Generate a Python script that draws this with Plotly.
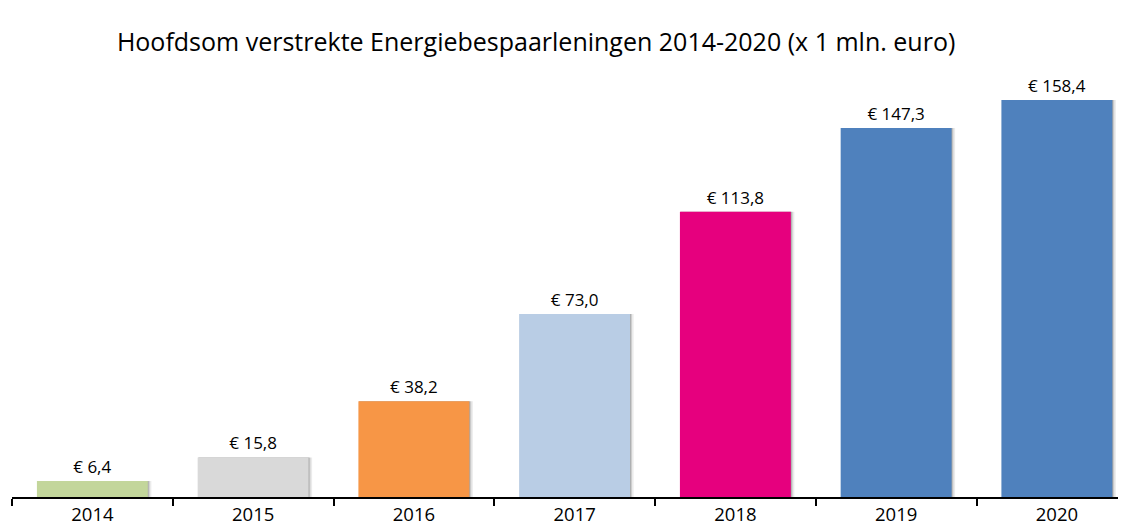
import plotly.graph_objects as go

years = ["2014", "2015", "2016", "2017", "2018", "2019", "2020"]
values = [6.4, 15.8, 38.2, 73.0, 113.8, 147.3, 158.4]
labels = ["€ 6,4", "€ 15,8", "€ 38,2", "€ 73,0", "€ 113,8", "€ 147,3", "€ 158,4"]
colors = ["#C3D69B", "#D9D9D9", "#F79646", "#B9CDE5", "#E6007E", "#4F81BD", "#4F81BD"]

FONT = "Open Sans, sans-serif"

fig = go.Figure()
# soft shadow (right and bottom edge)
for w, off, a in [(0.705, -0.338, 0.08), (0.697, -0.340, 0.12), (0.692, -0.342, 0.18)]:
    fig.add_trace(go.Bar(
        x=years, y=values, width=w, offset=off,
        marker=dict(color=f"rgba(0,0,0,{a})", line=dict(width=0)),
        hoverinfo="skip", showlegend=False,
    ))
fig.add_trace(go.Bar(
    x=years, y=values, width=0.69, offset=-0.345,
    marker=dict(color=colors, line=dict(width=0)),
    text=labels, textposition="outside", cliponaxis=False,
    textfont=dict(family=FONT, size=17, color="#000000"),
    showlegend=False,
))

fig.update_layout(
    barmode="overlay",
    width=1126, height=529,
    margin=dict(l=4, r=8, t=52, b=40),
    paper_bgcolor="white", plot_bgcolor="white",
    title=dict(
        text="Hoofdsom verstrekte Energiebespaarleningen 2014-2020 (x 1 mln. euro)",
        x=0.4690, xanchor="center", y=0.9357, yanchor="middle",
        font=dict(family=FONT, size=25, color="#000000"),
    ),
    xaxis=dict(
        type="category", range=[-0.5, 6.43],
        showline=True, linecolor="#000000", linewidth=2,
        ticks="outside", tickson="boundaries", ticklen=7, tickcolor="#000000", tickwidth=1.5,
        tickfont=dict(family=FONT, size=18.5, color="#000000"),
        showgrid=False,
    ),
    yaxis=dict(range=[0, 174.4], visible=False, showgrid=False, zeroline=False),
)

fig.write_html("out.html")
